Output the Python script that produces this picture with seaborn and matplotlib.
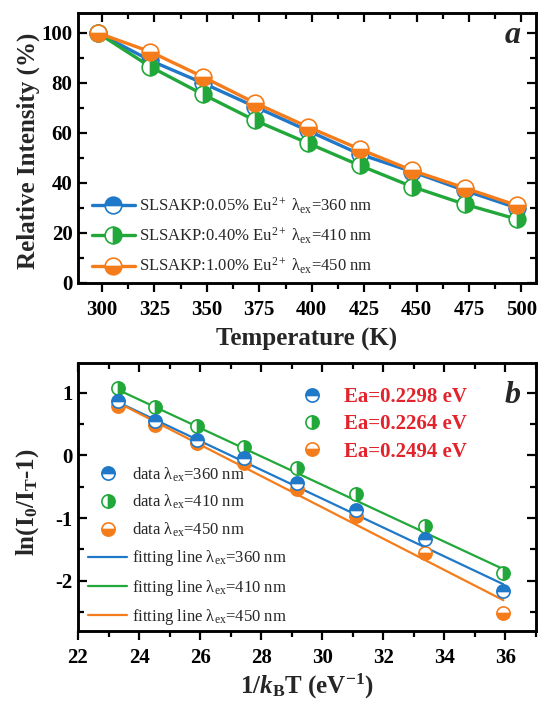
import numpy as np
import pandas as pd
import matplotlib
matplotlib.use("Agg")
import matplotlib.pyplot as plt
from matplotlib.lines import Line2D
from matplotlib.ticker import MultipleLocator, NullFormatter
import seaborn as sns

# ---------------- data ----------------
temps = [298, 323, 348, 373, 398, 423, 448, 473, 498]
rel_360 = [100, 89, 80, 70.5, 61, 51.5, 44.5, 37, 30]
rel_410 = [100, 86.5, 75.5, 65, 56, 47, 38.5, 31.5, 25.5]
rel_450 = [100, 92.5, 82.5, 72, 62.5, 53.5, 45, 38, 31]

inv_kT = [23.30, 24.53, 25.90, 27.43, 29.16, 31.11, 33.35, 35.93]
ln_360 = [0.87, 0.55, 0.25, -0.05, -0.44, -0.87, -1.33, -2.16]
ln_410 = [1.07, 0.77, 0.46, 0.13, -0.21, -0.62, -1.12, -1.88]
ln_450 = [0.78, 0.48, 0.19, -0.13, -0.53, -0.97, -1.55, -2.51]

ea_values = [0.2298, 0.2264, 0.2494]
fit_intercepts = [6.202, 6.321, 6.652]
fit_x_range = [23.30, 35.93]

wavelengths = [360, 410, 450]
concentrations = ["0.05%", "0.40%", "1.00%"]

colors = ["#1f78c8", "#22a83a", "#f57c1a"]
fills = ["top", "right", "bottom"]
red = "#e3232c"

# ---------------- style ----------------
sns.set_theme(style="ticks")
rc = plt.rcParams
rc["font.family"] = ["Liberation Serif", "DejaVu Serif"]
rc["font.weight"] = "bold"
rc["axes.unicode_minus"] = False
rc["mathtext.fontset"] = "custom"
rc["mathtext.rm"] = "Liberation Serif:weight=normal:style=normal"
rc["mathtext.it"] = "Liberation Serif:weight=normal:style=italic"
rc["mathtext.bf"] = "Liberation Serif:weight=bold:style=normal"
rc["mathtext.bfit"] = "Liberation Serif:weight=bold:style=italic"
rc["axes.linewidth"] = 1.8
rc["axes.edgecolor"] = "black"
rc["axes.axisbelow"] = False
for ax_name in ["xtick", "ytick"]:
    rc[ax_name + ".color"] = "black"
    rc[ax_name + ".labelcolor"] = "black"
    rc[ax_name + ".labelsize"] = 15
    rc[ax_name + ".major.size"] = 6.5
    rc[ax_name + ".minor.size"] = 4
    rc[ax_name + ".major.width"] = 1.6
    rc[ax_name + ".minor.width"] = 1.6
rc["xtick.direction"] = "out"
rc["xtick.major.pad"] = 5.5
rc["xtick.minor.pad"] = 5.5
rc["xtick.minor.visible"] = True
rc["ytick.direction"] = "in"
rc["ytick.left"] = True
rc["ytick.right"] = True
rc["ytick.major.pad"] = 4
rc["ytick.minor.pad"] = 4
rc["ytick.minor.visible"] = True

fig = plt.figure(figsize=(5.39, 7.02), dpi=100)
axa = fig.add_axes([0.1447, 0.5969, 0.8497, 0.3846])
axb = fig.add_axes([0.1447, 0.1011, 0.8497, 0.3818])


def finish_ticks(ax, xmaj, xmin):
    ax.tick_params(axis="y", which="both", left=True, right=True,
                   direction="in", color="black")
    ax.tick_params(axis="x", which="both", bottom=True, top=False,
                   direction="out", color="black")
    top = ax.twiny()
    top.set_xlim(ax.get_xlim())
    top.xaxis.set_major_locator(MultipleLocator(xmaj))
    top.xaxis.set_minor_locator(MultipleLocator(xmin))
    top.xaxis.set_major_formatter(NullFormatter())
    top.tick_params(axis="x", which="both", direction="in", top=True,
                    bottom=False, labeltop=False, labelbottom=False,
                    color="black")
    top.tick_params(axis="y", which="both", left=False, right=False,
                    labelleft=False, labelright=False)


# ---------------- panel a ----------------
df_a = pd.DataFrame({"T": temps, "r360": rel_360, "r410": rel_410, "r450": rel_450})
for i in [1, 0, 2]:
    col = ["r360", "r410", "r450"][i]
    sns.lineplot(data=df_a, x="T", y=col, ax=axa, color=colors[i], lw=2.4,
                 marker="o", markersize=12, fillstyle=fills[i],
                 markerfacecoloralt="white", markeredgecolor=colors[i],
                 markeredgewidth=1.2, estimator=None, sort=False, zorder=3 + i)

axa.set_xlim(288.5, 507)
axa.set_ylim(0, 108)
axa.xaxis.set_major_locator(MultipleLocator(25))
axa.xaxis.set_minor_locator(MultipleLocator(12.5))
axa.yaxis.set_major_locator(MultipleLocator(20))
axa.yaxis.set_minor_locator(MultipleLocator(10))
axa.set_xlabel("Temperature (K)", fontsize=18, fontweight="bold", labelpad=6)
axa.set_ylabel("Relative Intensity (%)", fontsize=18, fontweight="bold")
axa.yaxis.set_label_coords(-0.082, 0.49)

handles_a = []
labels_a = []
for i in range(3):
    handles_a.append(Line2D([], [], color=colors[i], lw=2.4, marker="o",
                            markersize=12, fillstyle=fills[i],
                            markerfacecoloralt="white",
                            markeredgecolor=colors[i], markeredgewidth=1.2))
    labels_a.append("SLSAKP:%s Eu$^{\\mathrm{2+}}$ λ$_{\\mathrm{ex}}$=%d nm"
                    % (concentrations[i], wavelengths[i]))
axa.legend(handles_a, labels_a, loc="lower left", bbox_to_anchor=(0.03, 0.025),
           frameon=False, borderpad=0, borderaxespad=0, handlelength=2.6,
           handletextpad=0.25, labelspacing=0.6,
           prop={"family": "Liberation Serif", "weight": "normal", "size": 12})
axa.text(0.967, 0.889, "a", transform=axa.transAxes, ha="right", va="baseline",
         fontsize=23, fontweight="bold", fontstyle="italic")
finish_ticks(axa, 25, 12.5)

# ---------------- panel b ----------------
df_b = pd.DataFrame({"x": inv_kT, "l360": ln_360, "l410": ln_410, "l450": ln_450})
fit_rows = []
for i in range(3):
    for xv in fit_x_range:
        fit_rows.append({"x": xv, "y": fit_intercepts[i] - ea_values[i] * xv,
                         "series": i})
df_fit = pd.DataFrame(fit_rows)

for i in range(3):
    sub = df_fit[df_fit["series"] == i]
    sns.lineplot(data=sub, x="x", y="y", ax=axb, color=colors[i], lw=1.6,
                 estimator=None, sort=False, zorder=2)
for i in [1, 2, 0]:
    col = ["l360", "l410", "l450"][i]
    sns.lineplot(data=df_b, x="x", y=col, ax=axb, color=colors[i],
                 linestyle="none", marker="o", markersize=9.5,
                 fillstyle=fills[i], markerfacecoloralt="white",
                 markeredgecolor=colors[i], markeredgewidth=1.2,
                 estimator=None, sort=False, zorder=4)

axb.set_xlim(22, 37)
axb.set_ylim(-2.8, 1.47)
axb.xaxis.set_major_locator(MultipleLocator(2))
axb.xaxis.set_minor_locator(MultipleLocator(1))
axb.yaxis.set_major_locator(MultipleLocator(1))
axb.yaxis.set_minor_locator(MultipleLocator(0.5))
axb.set_xlabel("1/$\\mathbfit{k}_\\mathbf{B}$T (eV$^{\\mathbf{-1}}$)",
               fontsize=18, fontweight="bold", labelpad=3)
axb.set_ylabel("ln(I$_\\mathbf{0}$/I$_\\mathbf{T}$-1)", fontsize=18,
               fontweight="bold")
axb.yaxis.set_label_coords(-0.081, 0.48)

handles_b = []
labels_b = []
for i in range(3):
    handles_b.append(Line2D([], [], color=colors[i], linestyle="none",
                            marker="o", markersize=9.5, fillstyle=fills[i],
                            markerfacecoloralt="white",
                            markeredgecolor=colors[i], markeredgewidth=1.2))
    labels_b.append("data λ$_{\\mathrm{ex}}$=%d nm" % wavelengths[i])
for i in range(3):
    handles_b.append(Line2D([], [], color=colors[i], lw=1.6))
    labels_b.append("fitting line λ$_{\\mathrm{ex}}$=%d nm" % wavelengths[i])
leg_b = axb.legend(handles_b, labels_b, loc="lower left",
                   bbox_to_anchor=(0.022, 0.015), frameon=False, borderpad=0,
                   borderaxespad=0, handlelength=2.35, handletextpad=0.3,
                   labelspacing=0.56,
                   prop={"family": "Liberation Serif", "weight": "normal",
                         "size": 12})
axb.add_artist(leg_b)

handles_e = []
for i in range(3):
    handles_e.append(Line2D([], [], color=colors[i], linestyle="none",
                            marker="o", markersize=9.5, fillstyle=fills[i],
                            markerfacecoloralt="white",
                            markeredgecolor=colors[i], markeredgewidth=1.2))
labels_e = ["Ea=%.4f eV" % e for e in ea_values]
leg_e = axb.legend(handles_e, labels_e, loc="upper left",
                   bbox_to_anchor=(0.484, 0.91), frameon=False, borderpad=0,
                   borderaxespad=0, handlelength=1.2, handletextpad=0.94,
                   labelspacing=0.35,
                   prop={"family": "Liberation Serif", "weight": "bold",
                         "size": 15})
for t in leg_e.get_texts():
    t.set_color(red)
axb.text(0.967, 0.851, "b", transform=axb.transAxes, ha="right", va="baseline",
         fontsize=23, fontweight="bold", fontstyle="italic")
finish_ticks(axb, 2, 1)

fig.savefig("out.png", dpi=100)
